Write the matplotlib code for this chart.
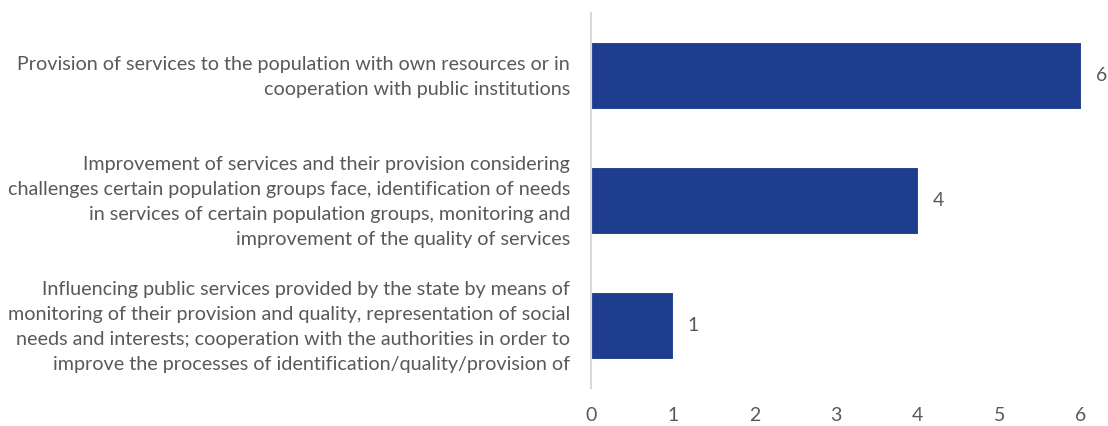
import matplotlib
matplotlib.use('Agg')
import matplotlib.pyplot as plt
import matplotlib.transforms as mtransforms

plt.rcParams['font.family'] = ['Lato', 'DejaVu Sans']

labels = [
    "Influencing public services provided by the state by means of\n"
    "monitoring of their provision and quality, representation of social\n"
    "needs and interests; cooperation with the authorities in order to\n"
    "improve the processes of identification/quality/provision of",
    "Improvement of services and their provision considering\n"
    "challenges certain population groups face, identification of needs\n"
    "in services of certain population groups, monitoring and\n"
    "improvement of the quality of services",
    "Provision of services to the population with own resources or in\n"
    "cooperation with public institutions",
]
values = [1, 4, 6]
xticks = [0, 1, 2, 3, 4, 5, 6]

grey = '#595959'
fig = plt.figure(figsize=(11.08, 4.26), dpi=100)
ax = fig.add_axes([0.5334, 0.0892, 0.4423, 0.8803])

pos = range(len(values))
bars = ax.barh(pos, values, height=0.53, color='#1F3D8E', edgecolor='white', linewidth=0.8)
for p, v in zip(pos, values):
    ax.text(v + 0.18, p, str(v), va='center', ha='left', fontsize=14, color=grey)

ax.set_xlim(0, 6)
ax.set_ylim(-0.5, 2.5)
ax.set_xticks(xticks)
ax.set_yticks(list(pos))
ax.set_yticklabels(labels, fontsize=14.2, color=grey, linespacing=1.56)
ax.tick_params(axis='x', length=0, labelsize=14, labelcolor=grey, pad=14)
ax.tick_params(axis='y', length=0, pad=15)

# labels sit a few pixels high in the original
shift = mtransforms.ScaledTranslation(0, 4 / 100, fig.dpi_scale_trans)
for lab in ax.get_yticklabels():
    lab.set_transform(lab.get_transform() + shift)

for s in ['top', 'right', 'bottom']:
    ax.spines[s].set_visible(False)
ax.spines['left'].set_color('#D9D9D9')
ax.spines['left'].set_linewidth(1.5)

fig.savefig('out.png', dpi=100)
